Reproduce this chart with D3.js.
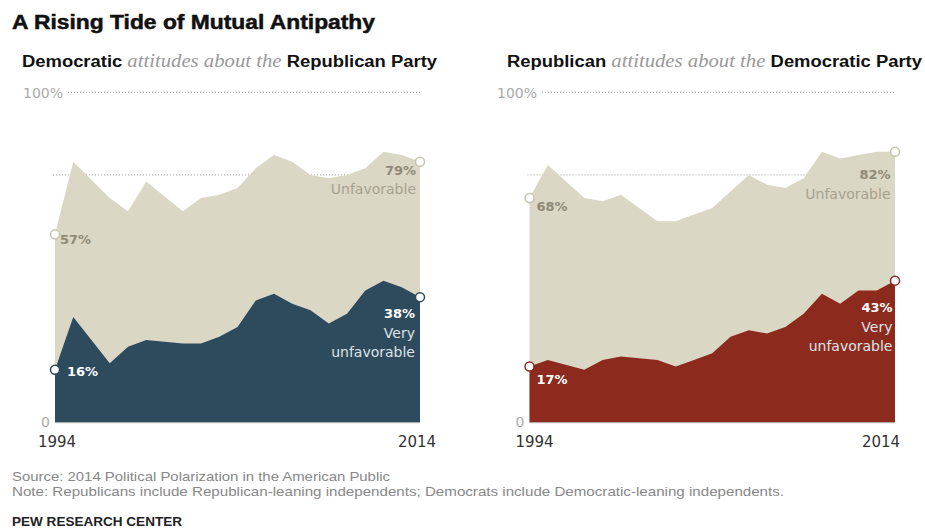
<!DOCTYPE html>
<html>
<head>
<meta charset="utf-8">
<script src="https://cdn.jsdelivr.net/npm/d3@7"></script>
<style>
  body { margin: 0; background: #fff; }
  svg { display: block; }
  text { font-family: "DejaVu Sans", sans-serif; }
</style>
</head>
<body>
<div id="chart"></div>
<script>
// survey years and values (%)
var years = [1994, 1995, 1997, 1998, 1999, 2001, 2002, 2003, 2004, 2005, 2006, 2007, 2008, 2009, 2010, 2011, 2012, 2013, 2014];
var demUnfav     = [57, 79, 68, 64, 73, 64, 68, 69, 71, 77, 81, 79, 75, 74, 75, 77, 82, 81, 79];
var demVeryUnfav = [16, 32, 18, 23, 25, 24, 24, 26, 29, 37, 39, 36, 34, 30, 33, 40, 43, 41, 38];
var repUnfav     = [68, 78, 68, 67, 69, 61, 61, 63, 65, 70, 75, 72, 71, 74, 82, 80, 81, 82, 82];
var repVeryUnfav = [17, 19, 16, 19, 20, 19, 17, 19, 21, 26, 28, 27, 29, 33, 39, 36, 40, 40, 43];
var yTicks = [0, 100];
var yearTicks = [1994, 2014];

var width = 925, height = 529;

var svg = d3.select("#chart").append("svg")
  .attr("width", width)
  .attr("height", height);

svg.append("text")
  .attr("x", 12).attr("y", 29)
  .attr("textLength", 363).attr("lengthAdjust", "spacingAndGlyphs")
  .style("font-family", "'Liberation Sans', Arial, sans-serif")
  .style("font-weight", "bold")
  .style("font-size", "20px")
  .style("fill", "#111")
  .style("stroke", "#111").style("stroke-width", 0.5)
  .text("A Rising Tide of Mutual Antipathy");

var panels = [
  {
    who: "Democratic", about: "Republican Party",
    unfav: demUnfav, very: demVeryUnfav,
    color: "#2e4b5e",
    x0: 55, x1: 420, titleX: 22, labelX: 23,
    yearOff: [2, -3],
    lab: { startUnf: [5, 10], startVery: [12, 6], endUnf: [-4, 13], endVery: [-5, 21] }
  },
  {
    who: "Republican", about: "Democratic Party",
    unfav: repUnfav, very: repVeryUnfav,
    color: "#8c2a1e",
    x0: 529.5, x1: 895, titleX: 507, labelX: 497,
    yearOff: [5, -14],
    lab: { startUnf: [7, 13], startVery: [7, 17], endUnf: [-4.5, 27.5], endVery: [-2.5, 31.7] }
  }
];

var tan = "#dbd7c5";

panels.forEach(function(p) {
  var x = d3.scaleLinear().domain([1994, 2014]).range([p.x0, p.x1]);
  var y = d3.scaleLinear().domain([0, 100]).range([422.7, 92.3]);
  var g = svg.append("g");

  // panel heading
  var t = g.append("text")
    .attr("x", p.titleX).attr("y", 67)
    .attr("textLength", 415).attr("lengthAdjust", "spacingAndGlyphs");
  t.append("tspan")
    .style("font-family", "'Liberation Sans', Arial, sans-serif")
    .style("font-size", "16px")
    .style("font-weight", "bold").style("fill", "#111")
    .text(p.who + " ");
  t.append("tspan")
    .style("font-family", "'Liberation Serif', 'DejaVu Serif', serif")
    .style("font-size", "18px")
    .style("font-style", "italic").style("fill", "#999")
    .text("attitudes about the ");
  t.append("tspan")
    .style("font-family", "'Liberation Sans', Arial, sans-serif")
    .style("font-size", "16px")
    .style("font-weight", "bold").style("fill", "#111")
    .text(p.about);

  // gridlines
  g.append("line")
    .attr("x1", p.labelX + 45).attr("x2", p.x1 + 1)
    .attr("y1", y(100)).attr("y2", y(100))
    .style("stroke", "#999").style("stroke-dasharray", "1,2");
  g.append("line")
    .attr("x1", p.x0 - 2).attr("x2", p.x1)
    .attr("y1", y(75)).attr("y2", y(75))
    .style("stroke", "#999").style("stroke-dasharray", "1,2");

  g.selectAll(".ytick").data(yTicks).enter().append("text")
    .attr("class", "ytick")
    .attr("x", function(d) { return d == 100 ? p.labelX : p.x0 - 5; })
    .attr("y", function(d) { return y(d) + (d == 100 ? 6 : 4); })
    .attr("text-anchor", function(d) { return d == 100 ? "start" : "end"; })
    .style("font-size", "14px").style("fill", "#aaa")
    .text(function(d) { return d == 100 ? "100%" : "0"; });

  var idx = d3.range(years.length);
  var areaUnf = d3.area()
    .x(function(i) { return x(years[i]); })
    .y0(y(0))
    .y1(function(i) { return y(p.unfav[i]); });
  var areaVery = d3.area()
    .x(function(i) { return x(years[i]); })
    .y0(y(0))
    .y1(function(i) { return y(p.very[i]); });

  g.append("path").datum(idx).attr("d", areaUnf).style("fill", tan);
  g.append("path").datum(idx).attr("d", areaVery).style("fill", p.color);

  g.append("line")
    .attr("x1", p.x0).attr("x2", p.x1)
    .attr("y1", y(0)).attr("y2", y(0))
    .style("stroke", "#bbb").style("stroke-width", 1);

  g.selectAll(".year").data(yearTicks).enter().append("text")
    .attr("class", "year")
    .attr("x", function(d, i) { return x(d) + p.yearOff[i]; })
    .attr("y", 447)
    .attr("text-anchor", "middle")
    .style("font-size", "15px").style("fill", "#333")
    .text(function(d) { return d; });

  // end-point markers
  var last = years.length - 1;
  var pts = [
    { v: p.unfav[0], yr: years[0], c: "#c9c4af" },
    { v: p.very[0], yr: years[0], c: p.color },
    { v: p.unfav[last], yr: years[last], c: "#c9c4af" },
    { v: p.very[last], yr: years[last], c: p.color }
  ];
  g.selectAll(".dot").data(pts).enter().append("circle")
    .attr("class", "dot")
    .attr("cx", function(d) { return x(d.yr); })
    .attr("cy", function(d) { return y(d.v); })
    .attr("r", 4.5)
    .style("fill", "#fff")
    .style("stroke", function(d) { return d.c; })
    .style("stroke-width", 1.5);

  // value labels
  var L = p.lab;
  g.append("text")
    .attr("x", x(years[0]) + L.startUnf[0]).attr("y", y(p.unfav[0]) + L.startUnf[1])
    .style("font-size", "13px").style("font-weight", "bold").style("fill", "#8f8a78")
    .text(p.unfav[0] + "%");
  g.append("text")
    .attr("x", x(years[0]) + L.startVery[0]).attr("y", y(p.very[0]) + L.startVery[1])
    .style("font-size", "13px").style("font-weight", "bold").style("fill", "#fff")
    .text(p.very[0] + "%");

  var eu = g.append("text")
    .attr("text-anchor", "end")
    .attr("x", x(years[last]) + L.endUnf[0]).attr("y", y(p.unfav[last]) + L.endUnf[1]);
  eu.append("tspan").style("font-size", "13px").style("font-weight", "bold").style("fill", "#8f8a78")
    .text(p.unfav[last] + "%");
  eu.append("tspan").attr("x", x(years[last]) + L.endUnf[0]).attr("dy", 19.5)
    .style("font-size", "14px").style("fill", "#a6a18e")
    .text("Unfavorable");

  var ev = g.append("text")
    .attr("text-anchor", "end")
    .attr("x", x(years[last]) + L.endVery[0]).attr("y", y(p.very[last]) + L.endVery[1]);
  ev.append("tspan").style("font-size", "13px").style("font-weight", "bold").style("fill", "#fff")
    .text(p.very[last] + "%");
  ev.append("tspan").attr("x", x(years[last]) + L.endVery[0]).attr("dy", 20)
    .style("font-size", "14px").style("fill", "#dde3e6")
    .text("Very");
  ev.append("tspan").attr("x", x(years[last]) + L.endVery[0]).attr("dy", 18.5)
    .style("font-size", "14px").style("fill", "#dde3e6")
    .text("unfavorable");
});

// footer
svg.append("text")
  .attr("x", 12).attr("y", 481)
  .attr("textLength", 378).attr("lengthAdjust", "spacingAndGlyphs")
  .style("font-family", "'Liberation Sans', Arial, sans-serif")
  .style("font-size", "13px").style("fill", "#888")
  .text("Source: 2014 Political Polarization in the American Public");
svg.append("text")
  .attr("x", 12).attr("y", 496)
  .attr("textLength", 772).attr("lengthAdjust", "spacingAndGlyphs")
  .style("font-family", "'Liberation Sans', Arial, sans-serif")
  .style("font-size", "13px").style("fill", "#888")
  .text("Note: Republicans include Republican-leaning independents; Democrats include Democratic-leaning independents.");
svg.append("text")
  .attr("x", 12).attr("y", 525.5)
  .attr("textLength", 170).attr("lengthAdjust", "spacingAndGlyphs")
  .style("font-family", "'Liberation Sans', Arial, sans-serif")
  .style("font-weight", "bold")
  .style("font-size", "12px").style("fill", "#222")
  .text("PEW RESEARCH CENTER");
</script>
</body>
</html>
